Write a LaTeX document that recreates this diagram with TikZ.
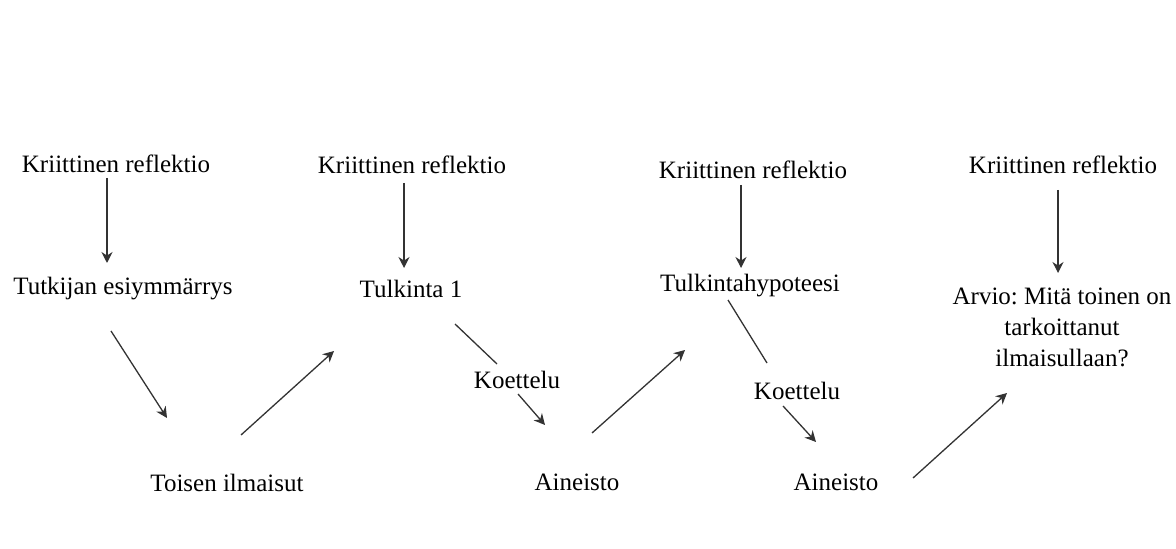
\documentclass[tikz,border=0pt]{standalone}
\usepackage{fontspec}
\setmainfont{Liberation Serif}
\usetikzlibrary{arrows.meta}
\frenchspacing

\begin{document}
\begin{tikzpicture}[x=0.5pt,y=-0.5pt,
	every node/.style={font=\fontsize{12.5}{15.5}\selectfont, inner sep=1pt, align=center},
	arr/.style={-{Stealth[length=5.5pt,width=5.5pt]}, line width=0.65pt, draw=black!80},
	ln/.style={line width=0.65pt, draw=black!80}]
	\useasboundingbox (0,0) rectangle (1176,549);
	\node (k1) at (116,164) {Kriittinen reflektio};
	\node (k2) at (412,165) {Kriittinen reflektio};
	\node (k3) at (753,170) {Kriittinen reflektio};
	\node (k4) at (1063,165) {Kriittinen reflektio};
	\node (esi) at (123,289) {Tutkijan esiymmärrys};
	\node (tul) at (411,289) {Tulkinta 1};
	\node (hyp) at (750,286) {Tulkintahypoteesi};
	\node (arv) at (1062,327) {Arvio: Mitä toinen on\\tarkoittanut\\ilmaisullaan?};
	\node (koe1) at (517,380) {Koettelu};
	\node (koe2) at (797,391) {Koettelu};
	\node (toi) at (227,483) {Toisen ilmaisut};
	\node (ain1) at (577,482) {Aineisto};
	\node (ain2) at (836,482) {Aineisto};
	\coordinate (a1) at (107,178); \coordinate (b1) at (107,263);
	\coordinate (a2) at (404,183); \coordinate (b2) at (404,268);
	\coordinate (a3) at (741,185); \coordinate (b3) at (741,268);
	\coordinate (a4) at (1058,190); \coordinate (b4) at (1058,273);
	\coordinate (c1) at (111,331); \coordinate (d1) at (167,418);
	\coordinate (c2) at (241,435); \coordinate (d2) at (334,351);
	\coordinate (c3) at (455,324); \coordinate (d3) at (497,364);
	\coordinate (c4) at (518,394); \coordinate (d4) at (545,425);
	\coordinate (c5) at (592,433); \coordinate (d5) at (685,350);
	\coordinate (c6) at (728,300); \coordinate (d6) at (767,363);
	\coordinate (c7) at (783,406); \coordinate (d7) at (816,442);
	\coordinate (c8) at (913,478); \coordinate (d8) at (1007,393);
	\foreach \i in {1,...,4} \draw[arr] (a\i) -- (b\i);
	\foreach \i in {1,2,4,5,7,8} \draw[arr] (c\i) -- (d\i);
	\foreach \i in {3,6} \draw[ln] (c\i) -- (d\i);
\end{tikzpicture}
\end{document}
